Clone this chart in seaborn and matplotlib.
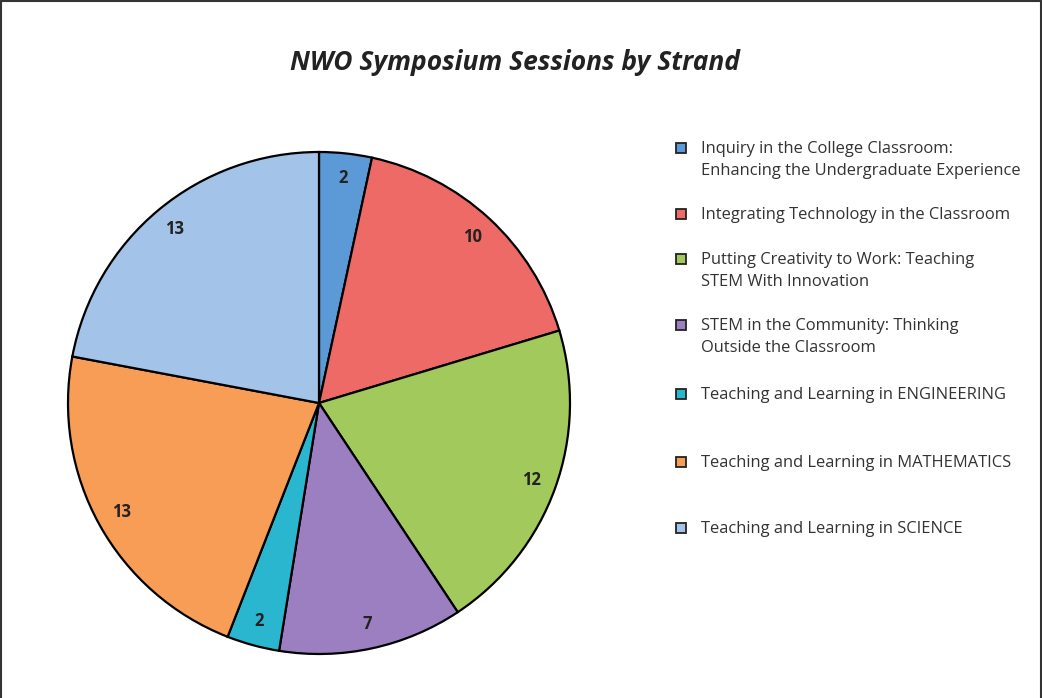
import matplotlib
matplotlib.use("Agg")
import numpy as np
import matplotlib.pyplot as plt
import seaborn as sns
from matplotlib.patches import Rectangle
from matplotlib.lines import Line2D

strands = [
    "Inquiry in the College Classroom:\nEnhancing the Undergraduate Experience",
    "Integrating Technology in the Classroom",
    "Putting Creativity to Work: Teaching\nSTEM With Innovation",
    "STEM in the Community: Thinking\nOutside the Classroom",
    "Teaching and Learning in ENGINEERING",
    "Teaching and Learning in MATHEMATICS",
    "Teaching and Learning in SCIENCE",
]
sessions = [2, 10, 12, 7, 2, 13, 13]
colors = ["#5b9ad6", "#ee6a66", "#a2c95c", "#9b7fc0", "#2bb6d0", "#f89d55", "#a3c4e8"]

sns.set_theme(style="white")
plt.rcParams["font.family"] = ["Open Sans", "DejaVu Sans"]

W, H = 1042, 698
fig = plt.figure(figsize=(W / 100, H / 100), dpi=100)
fig.patch.set_facecolor("white")

# pie axes: center (319, 403) px, radius 251 px
cx, cy, r = 319, 403, 251
ax = fig.add_axes([(cx - r) / W, (H - cy - r) / H, 2 * r / W, 2 * r / H])
wedges, _ = ax.pie(
    sessions, colors=colors, startangle=90, counterclock=False,
    radius=1.0, wedgeprops=dict(edgecolor="black", linewidth=1.6),
)
ax.set_xlim(-1.0, 1.0)
ax.set_ylim(-1.0, 1.0)
ax.set_aspect("auto")
ax.axis("off")

tot = sum(sessions)
start = 90.0
for v in sessions:
    mid = np.deg2rad(start - v / tot * 360 / 2)
    ax.text(0.9 * np.cos(mid), 0.9 * np.sin(mid), str(v), ha="center", va="center",
            fontsize=12, fontweight="bold", color="#222222")
    start -= v / tot * 360

fig.text(515 / W, 1 - 63 / H, "NWO Symposium Sessions by Strand", ha="center", va="center",
         fontsize=19, fontweight="bold", fontstyle="italic", color="#222222")

# legend
legend_y = [148, 214, 259, 325, 394, 462, 528]
for lbl, col, y in zip(strands, colors, legend_y):
    fig.patches.append(Rectangle((676 / W, 1 - (y + 5) / H), 10 / W, 10 / H,
                                 transform=fig.transFigure, facecolor=col,
                                 edgecolor="#222222", linewidth=1.3))
    fig.text(701 / W, 1 - (y - 7) / H, lbl, ha="left", va="top", fontsize=11.9,
             color="#333333", linespacing=1.5)

# frame
for xs, ys in [([0.001, 0.999], [0.998, 0.998]), ([0.001, 0.001], [0, 0.998]), ([0.999, 0.999], [0, 0.998])]:
    fig.lines.append(Line2D(xs, ys, transform=fig.transFigure, color="#333333", linewidth=1.5))

fig.savefig("out.png", dpi=100)
